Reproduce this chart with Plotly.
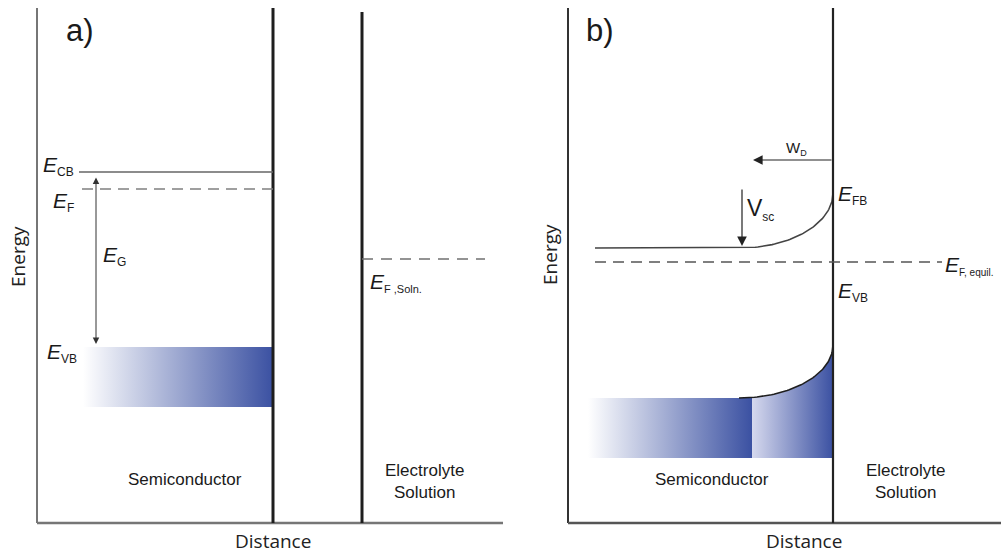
import numpy as np
import plotly.graph_objects as go

# ---------------- diagram values (pixel-like diagram units) ----------------
# Panel a: flat band picture
a_axis_left = 37
a_axis_right = 503
a_axis_top = 8
a_axis_bottom = 523
a_interface_x = [273, 362]
a_interface_top = [8, 12]
a_cb = [79, 273, 172]          # x0, x1, level
a_ef = [82, 273, 189]
a_eg_arrow = [96, 176, 344]     # x, top, bottom
a_vb_bar = [83, 273, 347, 407]  # x0, x1, top, bottom
a_ef_soln = [362, 485, 259]

# Panel b: band bending picture
b_axis_left = 568
b_axis_right = 1001
b_interface_x = 833
b_cb_flat = [595, 740, 248]
b_cb_top = 193
b_ef_equil = [595, 942, 262]
b_wd_arrow = [833, 753, 160]    # tail x, head x, y
b_vsc_arrow = [742, 188, 246]   # x, tail y, head y
b_vb_flat = [588, 752, 398, 458]
b_vb_curve_start = 739
b_vb_top = 345

# colours
band_blue = "#3b51a2"
dark = "#1e1e1e"
grey = "#767676"

# ---------------- helpers ----------------
def quarter_bend(x0, y0, x1, y1, n=60):
    """cubic Bezier from horizontal tangent at (x0,y0) to vertical tangent at (x1,y1)"""
    k = 0.5523
    p0 = np.array([x0, y0], float)
    p1 = np.array([x0 + k * (x1 - x0), y0], float)
    p2 = np.array([x1, y1 + k * (y0 - y1)], float)
    p3 = np.array([x1, y1], float)
    t = np.linspace(0, 1, n)[:, None]
    pts = ((1 - t) ** 3) * p0 + 3 * ((1 - t) ** 2) * t * p1 + 3 * (1 - t) * t ** 2 * p2 + t ** 3 * p3
    return pts[:, 0], pts[:, 1]

fig = go.Figure()

# ---- gradient bands ----
x0, x1, yt, yb = a_vb_bar
fig.add_trace(go.Scatter(
    x=[x0, x1, x1, x0, x0], y=[yt, yt, yb, yb, yt], mode="lines", fill="toself",
    line=dict(width=0), hoverinfo="skip",
    fillgradient=dict(type="horizontal", colorscale=[[0, "#ffffff"], [1, band_blue]], start=x0, stop=x1)))

x0, x1, yt, yb = b_vb_flat
fig.add_trace(go.Scatter(
    x=[x0, x1, x1, x0, x0], y=[yt, yt, yb, yb, yt], mode="lines", fill="toself",
    line=dict(width=0), hoverinfo="skip",
    fillgradient=dict(type="horizontal", colorscale=[[0, "#ffffff"], [1, band_blue]], start=x0, stop=x1)))

cx, cy = quarter_bend(b_vb_curve_start, b_vb_flat[2], b_interface_x, b_vb_top)
mask = cx >= b_vb_flat[1]
rx = np.concatenate([[b_vb_flat[1]], cx[mask], [b_interface_x, b_vb_flat[1]]])
ry = np.concatenate([[np.interp(b_vb_flat[1], cx, cy)], cy[mask], [b_vb_flat[3], b_vb_flat[3]]])
fig.add_trace(go.Scatter(
    x=rx, y=ry, mode="lines", fill="toself", line=dict(width=0), hoverinfo="skip",
    fillgradient=dict(type="horizontal", colorscale=[[0, "#d6d9ee"], [1, band_blue]],
                      start=b_vb_flat[1], stop=b_interface_x)))
fig.add_trace(go.Scatter(x=cx, y=cy, mode="lines", line=dict(color=dark, width=1.6), hoverinfo="skip"))

# ---- conduction band bending (panel b) ----
bx, by = quarter_bend(b_cb_flat[1], b_cb_flat[2], b_interface_x, b_cb_top)
fig.add_trace(go.Scatter(x=np.concatenate([[b_cb_flat[0]], bx]), y=np.concatenate([[b_cb_flat[2]], by]),
                         mode="lines", line=dict(color="#444444", width=1.6), hoverinfo="skip"))

shapes = []
def line(x0, y0, x1, y1, color, width, dash=None):
    d = dict(type="line", xref="x", yref="y", x0=x0, y0=y0, x1=x1, y1=y1,
             line=dict(color=color, width=width))
    if dash:
        d["line"]["dash"] = dash
    shapes.append(d)

# panel a axes
line(a_axis_left, a_axis_top, a_axis_left, a_axis_bottom, grey, 2)
line(a_axis_left, a_axis_bottom, a_axis_right, a_axis_bottom, grey, 2.5)
line(a_interface_x[0], a_interface_top[0], a_interface_x[0], a_axis_bottom, dark, 3)
line(a_interface_x[1], a_interface_top[1], a_interface_x[1], a_axis_bottom, dark, 3)
line(a_cb[0], a_cb[2], a_cb[1], a_cb[2], "#666666", 1.5)
line(a_ef[0], a_ef[2], a_ef[1], a_ef[2], "#808080", 1.5, "11px,7px")
line(a_ef_soln[0], a_ef_soln[2], a_ef_soln[1], a_ef_soln[2], "#707070", 1.5, "11px,8px")

# panel b axes
line(b_axis_left, a_axis_top, b_axis_left, a_axis_bottom, "#333333", 2)
line(b_axis_left, a_axis_bottom, b_axis_right, a_axis_bottom, "#555555", 2.5)
line(b_interface_x, a_axis_top, b_interface_x, a_axis_bottom, "#222222", 2.2)
line(b_ef_equil[0], b_ef_equil[2], b_ef_equil[1], b_ef_equil[2], "#555555", 1.5, "11px,7px")

ann = []
# arrows
ann.append(dict(x=a_eg_arrow[0], y=a_eg_arrow[2], ax=a_eg_arrow[0], ay=a_eg_arrow[1],
                xref="x", yref="y", axref="x", ayref="y", text="", showarrow=True,
                arrowhead=2, startarrowhead=2, arrowside="end+start", arrowsize=1.3,
                startarrowsize=1.3, arrowwidth=1, arrowcolor="#333333"))
ann.append(dict(x=b_wd_arrow[1], y=b_wd_arrow[2], ax=b_wd_arrow[0], ay=b_wd_arrow[2],
                xref="x", yref="y", axref="x", ayref="y", text="", showarrow=True,
                arrowhead=2, arrowsize=1.6, arrowwidth=1.2, arrowcolor="#222222"))
ann.append(dict(x=b_vsc_arrow[0], y=b_vsc_arrow[2], ax=b_vsc_arrow[0], ay=b_vsc_arrow[1],
                xref="x", yref="y", axref="x", ayref="y", text="", showarrow=True,
                arrowhead=2, arrowsize=1.6, arrowwidth=1.2, arrowcolor="#222222"))

SANS = "Liberation Sans, Arial, sans-serif"
OPEN = "Open Sans, sans-serif"

def txt(x, y, s, size, family=SANS, color="#1a1a1a", xanchor="left", yanchor="middle", angle=0):
    ann.append(dict(x=x, y=y, xref="x", yref="y", text=s, showarrow=False,
                    font=dict(family=family, size=size, color=color),
                    xanchor=xanchor, yanchor=yanchor, textangle=angle))

def elabel(main, sub, subsize=12, italic=True):
    m = f"<i>{main}</i>" if italic else main
    return f'{m}<sub><span style="font-size:{subsize}px">{sub}</span></sub>'

# panel a labels
txt(80, 30, "a)", 31, xanchor="center")
txt(41, 166, elabel("E", "CB"), 21)
txt(51, 202, elabel("E", "F"), 21)
txt(101, 256, elabel("E", "G"), 21)
txt(45, 353, elabel("E", "VB"), 21)
txt(368, 282, elabel("E", "F ,Soln.", subsize=11), 21)
txt(185, 479, "Semiconductor", 17, xanchor="center")
txt(424, 481, "Electrolyte<br>Solution", 17, xanchor="center")
txt(273, 541, "Distance", 19, family=OPEN, color="#222222", xanchor="center")
txt(18, 257, "Energy", 19, family=OPEN, color="#222222", xanchor="center", angle=-90)

# panel b labels
txt(600, 30, "b)", 31, xanchor="center")
txt(784, 148, elabel("W", "D", subsize=9, italic=False), 15)
txt(745, 209, elabel("V", "sc", subsize=12, italic=False), 23)
txt(836, 195, elabel("E", "FB"), 21)
txt(943, 265, elabel("E", "F, equil.", subsize=10), 21)
txt(836, 292, elabel("E", "VB"), 21)
txt(712, 479, "Semiconductor", 17, xanchor="center")
txt(905, 481, "Electrolyte<br>Solution", 17, xanchor="center")
txt(804, 541, "Distance", 19, family=OPEN, color="#222222", xanchor="center")
txt(550, 255, "Energy", 19, family=OPEN, color="#222222", xanchor="center", angle=-90)

fig.update_layout(
    width=1001, height=554, margin=dict(l=0, r=0, t=0, b=0),
    paper_bgcolor="white", plot_bgcolor="white", showlegend=False,
    xaxis=dict(range=[0, 1001], visible=False, fixedrange=True),
    yaxis=dict(range=[554, 0], visible=False, fixedrange=True),
    shapes=shapes, annotations=ann,
)
fig.write_html("out.html")
